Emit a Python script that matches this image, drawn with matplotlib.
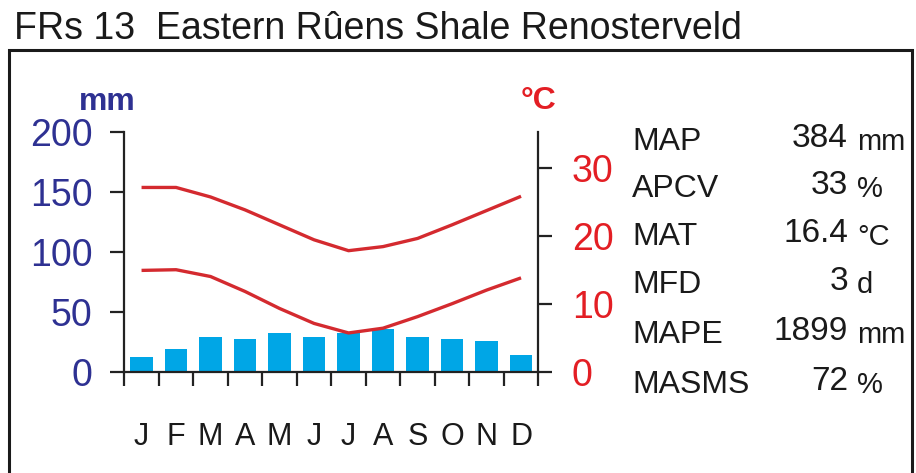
import numpy as np
import matplotlib.pyplot as plt
from matplotlib.patches import Rectangle
from matplotlib.transforms import Bbox, TransformedBbox

plt.rcParams['font.family'] = ['Liberation Sans', 'DejaVu Sans']

# climate diagram data
months = ['J', 'F', 'M', 'A', 'M', 'J', 'J', 'A', 'S', 'O', 'N', 'D']
rain_mm = [12.5, 19, 29, 27.5, 32, 29, 32.5, 36, 29, 27.5, 25.5, 14]
temp_max = [27.1, 27.1, 25.7, 23.8, 21.6, 19.4, 17.8, 18.4, 19.6, 21.6, 23.7, 25.8]
temp_min = [14.9, 15.0, 14.0, 11.8, 9.3, 7.1, 5.7, 6.4, 8.1, 10.0, 12.0, 13.8]

mm_ticks = [0, 50, 100, 150, 200]
temp_ticks = [0, 10, 20, 30]

stat_names = ['MAP', 'APCV', 'MAT', 'MFD', 'MAPE', 'MASMS']
stat_values = ['384', '33', '16.4', '3', '1899', '72']
stat_units = ['mm', '%', '°C', 'd', 'mm', '%']

title = 'FRs 13  Eastern Rûens Shale Renosterveld'

navy = '#2E3192'
red = '#E31E24'
line_red = '#D42A2F'
bar_blue = '#00A6E6'
axis_col = '#222222'

W, H = 916, 473
fig = plt.figure(figsize=(W / 100, H / 100), dpi=100)


def fx(px):
    return px / W


def fy(py):
    return (H - py) / H


ax = fig.add_axes([fx(124.3), fy(371.7), fx(538.3) - fx(124.3), fy(131.7) - fy(371.7)])
x = np.arange(12)
ax.bar(x, rain_mm, width=0.66, color=bar_blue, zorder=2)
ax.set_xlim(-0.5, 11.5)
ax.set_ylim(0, 200)

for s in ['top', 'right']:
    ax.spines[s].set_visible(False)
ax.spines['left'].set_linewidth(1.6)
ax.spines['bottom'].set_linewidth(1.6)
ax.spines['left'].set_color(axis_col)
ax.spines['bottom'].set_color(axis_col)

ax.set_yticks(mm_ticks)
ax.tick_params(axis='y', length=10, width=1.6, color=axis_col, pad=13,
               labelsize=27, labelcolor=navy)
ax.set_xticks(x, months)
ax.set_xticks(np.arange(-0.5, 12, 1), minor=True)
ax.tick_params(axis='x', which='major', length=0, pad=36, labelsize=22, labelcolor='#1a1a1a')
ax.tick_params(axis='x', which='minor', length=10, width=1.6, color=axis_col)

ax2 = ax.twinx()
ax2.plot(x, temp_max, color=line_red, lw=2.4, solid_joinstyle='round', solid_capstyle='butt')
ax2.plot(x, temp_min, color=line_red, lw=2.4, solid_joinstyle='round', solid_capstyle='butt')
ax2.set_ylim(0, 35.3)
ax2.set_xlim(-0.5, 11.5)
for s in ['top', 'left', 'bottom']:
    ax2.spines[s].set_visible(False)
ax2.spines['right'].set_linewidth(1.6)
ax2.spines['right'].set_color(axis_col)
ax2.set_yticks(temp_ticks)
ax2.tick_params(axis='y', length=10, width=1.6, color=axis_col, pad=14,
                labelsize=27, labelcolor=red)

# axis unit labels
fig.text(fx(107), fy(110), 'mm', color=navy, fontsize=23, fontweight='bold',
         ha='center', va='baseline')
fig.text(fx(539), fy(109), '°C', color=red, fontsize=23, fontweight='bold',
         ha='center', va='baseline')

# title and frame
fig.text(fx(14), fy(39), title, fontsize=27, color='#1a1a1a', va='baseline')
frame = Rectangle((fx(9), -0.1), fx(912) - fx(9), fy(50) + 0.1, transform=fig.transFigure,
                  fill=False, lw=2.2, edgecolor='#1a1a1a')
fig.patches.append(frame)

# statistics block
clip = TransformedBbox(Bbox([[0, 0], [fx(911), 1]]), fig.transFigure)
base = [150, 196.7, 245, 293.3, 343.3, 393.3]
for i in range(len(stat_names)):
    fig.text(fx(632), fy(base[i]), stat_names[i], fontsize=23, color='#1a1a1a', va='baseline')
    fig.text(fx(848), fy(base[i] - 3), stat_values[i], fontsize=24, color='#1a1a1a',
             va='baseline', ha='right')
    t = fig.text(fx(857), fy(base[i]), stat_units[i], fontsize=21, color='#1a1a1a', va='baseline')
    t.set_clip_box(clip)
    t.set_clip_on(True)

fig.savefig('out.png', dpi=100)
